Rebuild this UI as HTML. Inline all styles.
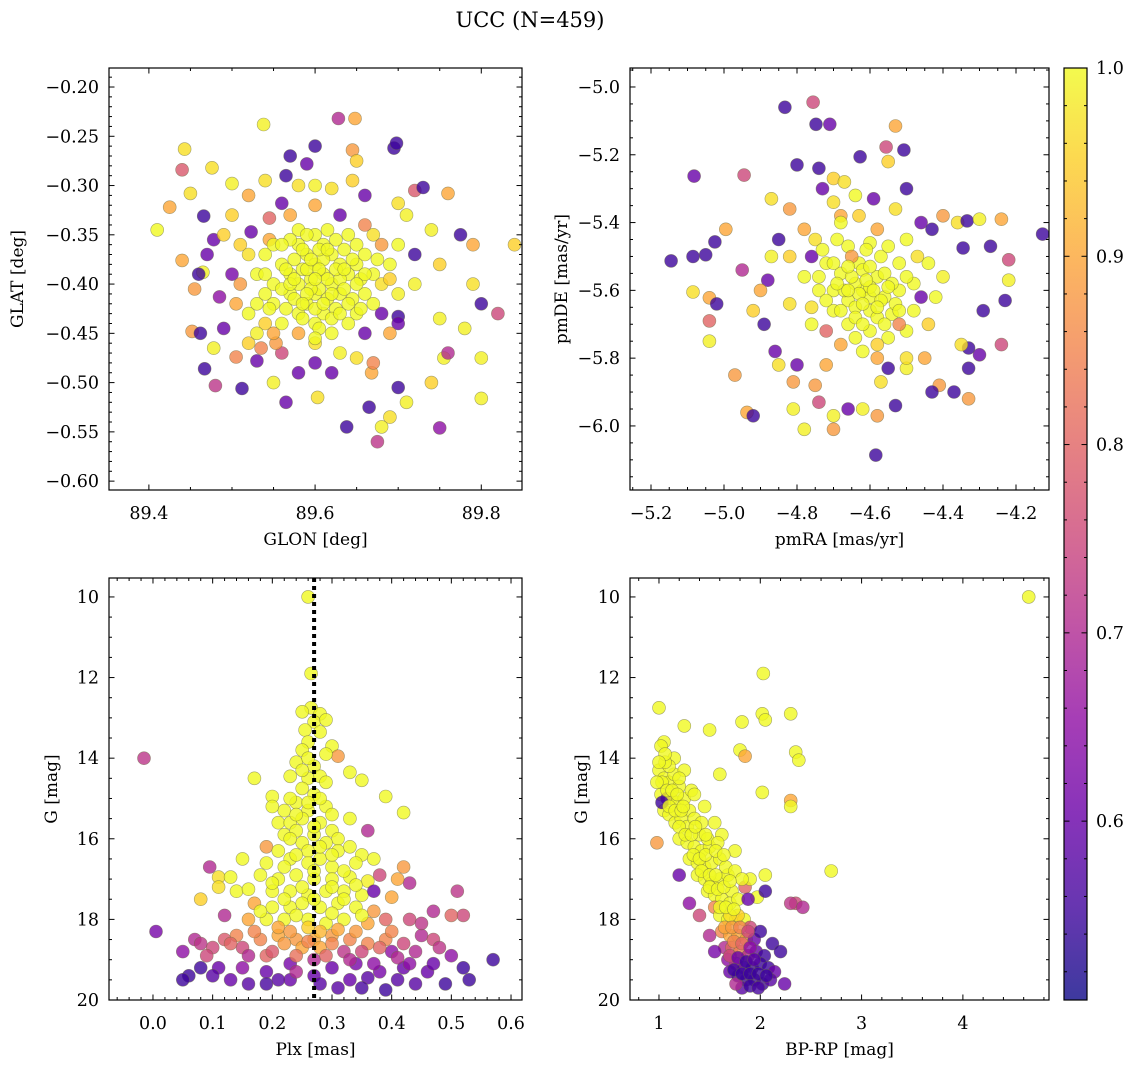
<!DOCTYPE html>
<html><head><meta charset="utf-8"><style>
html,body{margin:0;padding:0;background:#fff;}
svg{display:block;font-family:"DejaVu Serif","Liberation Serif",serif;}
</style></head><body>
<svg id="fig" width="1136" height="1067" viewBox="0 0 1136 1067" xmlns="http://www.w3.org/2000/svg">
<text x="530" y="27" font-size="21" text-anchor="middle">UCC (N=459)</text>
</svg>
<script>
// ---------- data (value arrays) ----------
const p1Points = [
[89.41,-0.345,1.0],[89.425,-0.322,0.9],[89.44,-0.284,0.78],[89.443,-0.263,0.97],[89.45,-0.308,0.97],[89.44,-0.376,0.9],[89.455,-0.405,0.88],[89.452,-0.448,0.88],[89.462,-0.45,0.55],[89.467,-0.486,0.55],[89.48,-0.503,0.72],[89.476,-0.282,0.97],[89.466,-0.331,0.55],[89.47,-0.37,0.6],[89.465,-0.388,0.99],[89.46,-0.39,0.55],[89.478,-0.355,0.6],[89.49,-0.35,0.95],[89.485,-0.413,0.65],[89.49,-0.445,0.6],[89.478,-0.465,0.99],[89.5,-0.298,0.99],[89.5,-0.33,0.95],[89.51,-0.36,0.95],[89.5,-0.39,0.62],[89.505,-0.42,0.9],[89.505,-0.474,0.85],[89.512,-0.506,0.55],[89.52,-0.46,0.95],[89.52,-0.31,0.9],[89.523,-0.347,0.6],[89.53,-0.478,0.6],[89.538,-0.238,0.99],[89.54,-0.295,0.97],[89.545,-0.333,0.8],[89.55,-0.50,0.99],[89.56,-0.318,0.6],[89.565,-0.29,0.55],[89.57,-0.27,0.55],[89.58,-0.30,0.97],[89.59,-0.278,0.6],[89.6,-0.26,0.55],[89.6,-0.30,0.99],[89.62,-0.303,0.97],[89.628,-0.232,0.7],[89.648,-0.232,0.9],[89.645,-0.264,0.88],[89.65,-0.275,0.95],[89.66,-0.31,0.6],[89.645,-0.295,0.95],[89.695,-0.262,0.55],[89.698,-0.257,0.55],[89.72,-0.305,0.78],[89.73,-0.302,0.55],[89.7,-0.318,0.97],[89.71,-0.33,0.99],[89.76,-0.308,0.9],[89.74,-0.345,0.99],[89.775,-0.35,0.55],[89.79,-0.36,0.9],[89.84,-0.36,0.95],[89.72,-0.37,0.55],[89.75,-0.38,0.95],[89.79,-0.40,0.97],[89.8,-0.42,0.55],[89.82,-0.43,0.75],[89.78,-0.445,0.99],[89.75,-0.435,0.99],[89.7,-0.433,0.55],[89.7,-0.44,0.6],[89.755,-0.475,0.99],[89.76,-0.47,0.7],[89.8,-0.475,0.99],[89.8,-0.516,0.99],[89.75,-0.546,0.65],[89.74,-0.50,0.95],[89.7,-0.505,0.55],[89.71,-0.52,0.99],[89.69,-0.535,0.97],[89.68,-0.545,0.99],[89.675,-0.56,0.72],[89.665,-0.525,0.55],[89.668,-0.49,0.9],[89.67,-0.48,0.85],[89.65,-0.475,0.97],[89.638,-0.545,0.55],[89.62,-0.49,0.6],[89.603,-0.515,0.97],[89.6,-0.48,0.6],[89.58,-0.49,0.6],[89.565,-0.52,0.6],[89.56,-0.47,0.75],[89.553,-0.46,0.88],[89.535,-0.465,0.85],[89.54,-0.44,0.95],[89.63,-0.47,0.99],[89.66,-0.45,0.6],[89.69,-0.45,0.9],
[89.58,-0.36,1],[89.59,-0.37,1],[89.6,-0.38,1],[89.61,-0.39,1],[89.62,-0.4,1],[89.6,-0.41,1],[89.59,-0.42,1],[89.58,-0.4,1],[89.57,-0.39,1],[89.56,-0.38,1],[89.62,-0.37,1],[89.63,-0.38,1],[89.64,-0.39,1],[89.63,-0.41,1],[89.61,-0.43,1],[89.6,-0.44,1],[89.58,-0.43,1],[89.57,-0.41,1],[89.55,-0.4,1],[89.55,-0.42,1],[89.56,-0.44,1],[89.65,-0.36,1],[89.66,-0.37,1],[89.67,-0.39,1],[89.66,-0.41,1],[89.65,-0.43,1],[89.64,-0.35,1],[89.6,-0.35,1],[89.58,-0.345,1],[89.54,-0.37,1],[89.53,-0.39,1],[89.53,-0.42,1],[89.52,-0.43,1],[89.62,-0.45,1],[89.6,-0.46,0.97],[89.68,-0.4,0.97],[89.69,-0.38,1],[89.7,-0.36,1],[89.67,-0.35,0.97],[89.61,-0.36,1],[89.595,-0.395,1],[89.605,-0.405,1],[89.615,-0.415,1],[89.585,-0.385,1],[89.575,-0.375,1],[89.625,-0.425,1],[89.635,-0.365,1],[89.645,-0.415,1],[89.655,-0.395,1],[89.565,-0.425,1],[89.545,-0.355,0.9],[89.51,-0.4,0.88],[89.66,-0.34,0.85],[89.63,-0.33,0.6],[89.57,-0.33,0.9],[89.6,-0.32,0.9],[89.68,-0.43,0.6],[89.52,-0.37,0.97],[89.7,-0.41,0.99],[89.72,-0.4,0.99],[89.58,-0.45,0.9],[89.55,-0.36,1],
[89.59,-0.385,1],[89.61,-0.375,1],[89.63,-0.395,1],[89.6,-0.425,1],[89.62,-0.435,1],[89.57,-0.355,1],[89.65,-0.38,1],[89.64,-0.44,1],[89.56,-0.405,1],[89.54,-0.41,1],
[89.585,-0.365,1],[89.605,-0.365,1],[89.625,-0.385,1],[89.615,-0.395,1],[89.595,-0.405,1],[89.575,-0.415,1],[89.605,-0.385,1],[89.635,-0.405,1],[89.645,-0.375,1],[89.655,-0.425,1],[89.6,-0.395,1],[89.59,-0.41,1],[89.62,-0.41,1],[89.61,-0.42,1],[89.57,-0.4,1],[89.565,-0.385,1],[89.625,-0.355,1],[89.585,-0.435,1],[89.605,-0.445,1],[89.63,-0.43,1],[89.545,-0.425,1],[89.54,-0.39,1],[89.675,-0.375,1],[89.66,-0.39,1],[89.59,-0.35,1],[89.615,-0.345,1],[89.55,-0.45,0.9],[89.68,-0.36,0.88],[89.53,-0.45,0.99],[89.67,-0.42,1],[89.575,-0.395,1],[89.595,-0.375,1],[89.635,-0.385,1],[89.615,-0.365,1],[89.585,-0.42,1],[89.64,-0.42,1],[89.65,-0.4,1],[89.56,-0.36,1],[89.69,-0.395,0.95],[89.6,-0.455,1]
];
const p2Points = [
[-5.145,-5.513,0.55],[-5.085,-5.50,0.55],[-5.025,-5.457,0.55],[-5.082,-5.263,0.6],[-5.05,-5.495,0.55],[-5.085,-5.605,0.97],[-5.04,-5.622,0.9],[-5.04,-5.69,0.8],[-5.04,-5.75,0.99],[-5.02,-5.64,0.55],[-4.995,-5.42,0.9],[-4.945,-5.26,0.75],[-4.95,-5.54,0.7],[-4.97,-5.85,0.88],[-4.937,-5.96,0.9],[-4.92,-5.97,0.55],[-4.88,-5.57,0.6],[-4.89,-5.7,0.55],[-4.92,-5.66,0.95],[-4.9,-5.6,0.9],[-4.87,-5.5,0.99],[-4.87,-5.33,0.97],[-4.85,-5.45,0.55],[-4.86,-5.78,0.6],[-4.85,-5.82,0.97],[-4.8,-5.23,0.55],[-4.82,-5.36,0.88],[-4.833,-5.06,0.55],[-4.756,-5.045,0.75],[-4.748,-5.11,0.55],[-4.71,-5.11,0.6],[-4.74,-5.24,0.55],[-4.73,-5.3,0.6],[-4.7,-5.27,0.95],[-4.67,-5.28,0.97],[-4.68,-5.38,0.9],[-4.627,-5.206,0.55],[-4.556,-5.177,0.75],[-4.53,-5.115,0.9],[-4.507,-5.186,0.55],[-4.5,-5.3,0.55],[-4.55,-5.22,0.95],[-4.59,-5.33,0.6],[-4.53,-5.36,0.97],[-4.46,-5.4,0.6],[-4.43,-5.42,0.55],[-4.4,-5.38,0.88],[-4.36,-5.4,0.97],[-4.334,-5.395,0.55],[-4.3,-5.39,0.99],[-4.24,-5.39,0.9],[-4.27,-5.47,0.55],[-4.345,-5.475,0.55],[-4.22,-5.51,0.75],[-4.22,-5.57,0.99],[-4.23,-5.63,0.55],[-4.127,-5.434,0.55],[-4.29,-5.66,0.55],[-4.24,-5.76,0.75],[-4.3,-5.79,0.6],[-4.33,-5.77,0.55],[-4.35,-5.76,0.97],[-4.33,-5.83,0.55],[-4.41,-5.88,0.88],[-4.43,-5.9,0.55],[-4.33,-5.92,0.88],[-4.37,-5.9,0.55],[-4.53,-5.94,0.55],[-4.58,-5.97,0.88],[-4.62,-5.95,0.99],[-4.584,-6.086,0.55],[-4.66,-5.95,0.6],[-4.7,-5.97,0.99],[-4.74,-5.93,0.75],[-4.75,-5.88,0.88],[-4.81,-5.87,0.88],[-4.81,-5.95,0.99],[-4.78,-6.01,0.99],[-4.7,-6.01,0.88],[-4.8,-5.82,0.6],[-4.55,-5.83,0.55],[-4.5,-5.83,0.99],[-4.45,-5.8,0.9],
[-4.62,-5.6,1],[-4.6,-5.62,1],[-4.64,-5.58,1],[-4.58,-5.56,1],[-4.66,-5.63,1],[-4.6,-5.66,1],[-4.56,-5.62,1],[-4.68,-5.55,1],[-4.63,-5.52,1],[-4.57,-5.5,1],[-4.7,-5.6,1],[-4.52,-5.6,1],[-4.54,-5.67,1],[-4.66,-5.7,1],[-4.6,-5.72,1],[-4.55,-5.74,1],[-4.7,-5.66,1],[-4.74,-5.6,1],[-4.72,-5.52,1],[-4.66,-5.47,1],[-4.6,-5.46,1],[-4.52,-5.52,1],[-4.48,-5.58,1],[-4.48,-5.66,1],[-4.5,-5.72,1],[-4.62,-5.78,1],[-4.68,-5.76,0.9],[-4.76,-5.7,1],[-4.78,-5.56,1],[-4.75,-5.45,0.97],[-4.68,-5.4,1],[-4.63,-5.38,0.95],[-4.58,-5.42,0.9],[-4.5,-5.45,1],[-4.44,-5.52,1],[-4.42,-5.62,1],[-4.44,-5.7,0.95],[-4.5,-5.8,0.97],[-4.58,-5.8,0.9],[-4.72,-5.82,0.9],[-4.82,-5.64,0.97],[-4.82,-5.5,0.95],[-4.78,-5.42,0.9],[-4.7,-5.34,0.97],[-4.64,-5.32,1],[-4.56,-5.55,1],[-4.64,-5.65,1],[-4.58,-5.68,1],[-4.62,-5.54,1],[-4.67,-5.6,1],[-4.54,-5.58,1],[-4.6,-5.59,1],[-4.65,-5.5,0.88],[-4.52,-5.7,0.85],[-4.72,-5.72,0.8],[-4.46,-5.62,0.6],[-4.76,-5.5,0.6],[-4.57,-5.87,0.97],[-4.4,-5.56,0.99],
[-4.61,-5.57,1],[-4.63,-5.61,1],[-4.59,-5.6,1],[-4.65,-5.56,1],[-4.57,-5.63,1],[-4.62,-5.64,1],[-4.6,-5.53,1],[-4.66,-5.53,1],[-4.69,-5.58,1],[-4.55,-5.59,1],[-4.58,-5.65,1],[-4.64,-5.68,1],[-4.68,-5.66,1],[-4.53,-5.64,1],[-4.56,-5.7,1],[-4.62,-5.7,1],[-4.7,-5.52,1],[-4.74,-5.56,1],[-4.5,-5.56,1],[-4.52,-5.66,1],[-4.66,-5.6,1],[-4.61,-5.48,1],[-4.55,-5.47,1],[-4.72,-5.63,1],[-4.76,-5.65,0.97],[-4.64,-5.74,1],[-4.58,-5.76,0.95],[-4.47,-5.5,0.97],[-4.69,-5.45,1],[-4.73,-5.48,1]
];
const p3Points = [
[-0.015,14.0,0.72],[0.005,18.3,0.62],[0.26,10.0,1],[0.265,11.9,1],[0.265,12.75,1],[0.25,12.85,1],[0.28,12.9,1],[0.27,13.1,1],[0.29,13.05,1],[0.255,13.3,1],[0.28,13.35,1],[0.26,13.6,1],[0.25,13.8,1],[0.3,13.7,1],[0.31,13.95,0.88],[0.29,13.9,1],[0.24,14.1,1],[0.27,14.2,1],[0.23,14.45,1],[0.26,14.5,1],[0.28,14.45,1],[0.33,14.35,1],[0.35,14.55,1],[0.17,14.5,1],[0.39,14.95,1],[0.2,14.95,1],[0.25,14.75,1],[0.27,14.9,1],[0.24,15.1,1],[0.22,15.3,1],[0.2,15.2,1],[0.26,15.3,1],[0.29,15.2,1],[0.3,15.4,1],[0.42,15.35,1],[0.36,15.8,0.7],[0.21,15.6,1],[0.23,15.6,1],[0.25,15.5,1],[0.28,15.6,1],[0.33,15.5,1],[0.22,15.9,1],[0.24,15.8,1],[0.27,15.9,1],[0.3,15.8,1],[0.31,16.0,1],[0.25,16.1,1],[0.29,16.1,1],[0.19,16.2,0.88],[0.21,16.3,1],[0.26,16.3,1],[0.31,16.3,1],[0.33,16.2,1],[0.35,16.4,1],[0.37,16.5,1],[0.15,16.5,1],[0.19,16.6,1],[0.23,16.5,1],[0.26,16.6,1],[0.28,16.5,1],[0.3,16.7,1],[0.34,16.6,1],[0.095,16.7,0.7],[0.11,16.95,0.97],[0.11,17.2,0.97],[0.13,16.95,1],[0.14,17.3,1],[0.18,16.9,1],[0.21,17.0,1],[0.24,16.9,1],[0.27,17.0,1],[0.3,17.0,1],[0.33,16.95,1],[0.36,17.05,0.99],[0.38,16.9,0.75],[0.42,16.7,0.88],[0.43,17.1,0.7],[0.41,17.0,0.9],[0.16,17.25,1],[0.2,17.3,1],[0.23,17.3,1],[0.26,17.4,1],[0.29,17.3,1],[0.32,17.3,1],[0.35,17.4,1],[0.37,17.3,0.6],[0.4,17.45,0.9],[0.08,17.5,0.95],[0.17,17.6,0.9],[0.2,17.7,1],[0.23,17.7,1],[0.25,17.6,1],[0.28,17.7,1],[0.31,17.6,1],[0.34,17.7,1],[0.37,17.8,0.88],[0.16,18.0,0.9],[0.19,18.0,1],[0.22,18.0,1],[0.26,18.0,1],[0.29,18.1,1],[0.32,18.0,1],[0.36,18.1,0.9],[0.39,18.0,0.8],[0.43,18.0,0.75],[0.51,17.3,0.72],[0.52,17.9,0.75],[0.5,17.9,0.8],[0.47,17.8,0.7],
[0.21,18.4,0.9],[0.24,18.5,0.88],[0.27,18.5,0.9],[0.3,18.4,0.88],[0.33,18.5,0.85],[0.28,18.7,0.9],[0.25,18.7,0.9],[0.22,18.6,0.88],[0.18,18.5,0.85],[0.14,18.4,0.85],[0.12,18.5,0.78],[0.1,18.7,0.75],[0.07,18.5,0.7],[0.05,18.8,0.65],[0.08,18.6,0.72],[0.15,18.7,0.75],[0.19,18.9,0.8],[0.36,18.6,0.85],[0.39,18.5,0.85],[0.42,18.6,0.75],[0.45,18.4,0.7],[0.47,18.5,0.75],[0.35,18.8,0.75],[0.32,18.8,0.72],[0.4,18.8,0.65],[0.44,18.8,0.7],[0.48,18.7,0.72],[0.5,18.9,0.65],[0.52,19.2,0.55],[0.57,19.0,0.55],[0.53,19.5,0.55],[0.46,19.3,0.6],[0.42,19.2,0.6],[0.38,19.3,0.62],[0.34,19.1,0.62],[0.3,19.2,0.6],[0.27,19.0,0.7],[0.23,19.1,0.62],[0.19,19.3,0.6],[0.15,19.2,0.65],[0.11,19.2,0.6],[0.08,19.2,0.55],[0.06,19.4,0.55],[0.05,19.5,0.55],[0.1,19.4,0.58],[0.13,19.5,0.6],[0.16,19.6,0.58],[0.19,19.6,0.56],[0.23,19.5,0.6],[0.27,19.4,0.6],[0.33,19.5,0.6],[0.36,19.45,0.58],[0.39,19.75,0.55],[0.41,19.5,0.58],[0.44,19.6,0.58],[0.31,19.7,0.58],[0.24,19.3,0.7],[0.2,18.8,0.78],[0.29,18.9,0.8],[0.37,19.1,0.65],[0.41,18.95,0.7],
[0.26,14.0,1],[0.25,14.3,1],[0.29,14.6,1],[0.23,15.0,1],[0.28,15.0,1],[0.26,15.1,1],[0.24,15.4,1],[0.27,15.7,1],[0.23,16.0,1],[0.28,16.2,1],[0.24,16.4,1],[0.3,16.4,1],[0.22,16.7,1],[0.27,16.8,1],[0.32,16.8,1],[0.2,17.1,1],[0.25,17.2,1],[0.3,17.2,1],[0.34,17.15,1],[0.22,17.5,1],[0.27,17.5,1],[0.32,17.5,1],[0.18,17.8,1],[0.24,17.9,1],[0.3,17.85,1],[0.35,17.9,1],[0.26,18.2,0.95],[0.21,18.2,0.9],[0.31,18.25,0.9],[0.4,18.3,0.85],[0.17,18.3,0.85],[0.23,18.3,0.88],[0.28,18.3,0.92],[0.34,18.3,0.88],[0.26,18.55,0.85],[0.3,18.6,0.85],[0.38,18.7,0.8],[0.13,18.6,0.8],[0.16,18.9,0.7],[0.24,18.9,0.82],[0.33,19.0,0.7],[0.43,19.1,0.65],[0.47,19.1,0.6],[0.21,19.5,0.58],[0.28,19.6,0.58],[0.35,19.7,0.56],[0.12,17.9,0.7],[0.45,18.1,0.72],[0.09,18.9,0.75],[0.49,19.6,0.55]
];
const p4Points = [
[4.65,10.0,1],[2.03,11.9,1],[2.02,12.9,1],[2.05,13.05,1],[2.3,12.9,1],[2.35,13.85,1],[2.38,14.05,1],[2.3,15.05,0.9],[2.3,15.2,1],[1.82,13.1,1],[1.8,13.8,1],[1.85,13.95,0.9],[1.6,14.4,1],[2.02,14.85,1],[1.0,12.75,1],[1.25,13.2,1],[0.98,16.1,0.88],[2.7,16.8,1],[2.35,17.6,0.75],[2.42,17.7,0.7],[1.5,13.3,1],[1.05,13.6,1],[1.02,13.7,1],[1.97,17.45,1],[2.3,17.6,0.72],
[1.0,14.3,1],[1.05,14.5,1],[1.1,14.6,1],[1.15,14.4,1],[1.2,14.7,1],[1.02,14.9,1],[1.08,15.0,0.6],[1.12,15.0,1],[1.18,15.1,1],[1.25,15.0,1],[1.3,15.3,1],[1.05,15.3,1],[1.1,15.4,1],[1.16,15.6,1],[1.22,15.5,1],[1.28,15.7,1],[1.35,15.5,1],[1.4,15.9,1],[1.2,16.0,1],[1.28,16.1,1],[1.35,16.2,1],[1.42,16.3,1],[1.5,16.2,1],[1.3,16.5,1],[1.38,16.6,1],[1.45,16.7,1],[1.52,16.6,1],[1.6,16.5,1],[1.38,16.9,1],[1.45,17.0,1],[1.52,17.1,1],[1.6,17.0,1],[1.68,16.9,1],[1.72,17.3,1],[1.48,17.3,1],[1.55,17.4,1],[1.62,17.5,1],[1.7,17.6,1],[1.78,17.5,1],[1.85,17.2,0.8],[1.88,17.5,0.6],[1.55,17.7,0.85],[1.6,17.9,1],[1.68,18.0,1],[1.76,18.0,1],[1.84,18.0,1],[1.9,18.2,0.75],[1.62,18.3,0.85],[1.7,18.4,0.9],[1.78,18.4,0.9],[1.86,18.5,0.9],[1.94,18.5,0.6],[2.0,18.3,0.55],[1.65,18.7,0.7],[1.72,18.7,0.8],[1.8,18.8,0.85],[1.88,18.9,0.7],[1.96,18.8,0.6],[2.04,18.9,0.55],[2.12,18.6,0.55],[2.2,18.8,0.55],[1.68,19.0,0.65],[1.76,19.1,0.72],[1.84,19.2,0.6],[1.92,19.2,0.55],[2.0,19.1,0.55],[2.08,19.2,0.55],[2.14,19.3,0.6],[1.7,19.3,0.6],[1.78,19.4,0.55],[1.86,19.5,0.55],[1.94,19.5,0.55],[2.02,19.6,0.55],[2.1,19.5,0.58],[1.82,19.7,0.58],[1.76,19.6,0.7],[2.24,19.6,0.6],[1.2,16.9,0.6],[1.3,17.6,0.65],[1.4,17.9,0.75],[1.5,18.4,0.7],[1.55,18.8,0.62],[2.05,17.3,0.55],[1.9,17.0,1],[2.05,16.9,1],[1.75,16.3,1],[1.62,15.9,1],[1.55,15.6,1],[1.45,15.2,1],[1.32,14.8,1],[1.25,14.3,1],[1.15,14.0,1],[1.1,14.2,1],[1.06,14.1,1],[1.03,15.1,0.55],[1.35,14.9,1],[1.42,15.6,1],[1.48,16.0,1],[1.58,16.1,1],[1.66,16.7,1],[1.75,16.8,1],[1.82,17.0,1],[1.78,17.9,0.95],[1.7,17.9,0.97],
[1.03,14.6,1],[1.08,14.8,1],[1.13,14.8,1],[1.18,14.9,1],[1.1,15.2,1],[1.16,15.3,1],[1.22,15.3,1],[1.2,15.7,1],[1.26,15.9,1],[1.32,15.9,1],[1.34,16.4,1],[1.4,16.5,1],[1.46,16.4,1],[1.42,16.8,1],[1.5,16.9,1],[1.56,16.9,1],[1.5,17.2,1],[1.58,17.25,1],[1.64,17.2,1],[1.6,17.7,1],[1.66,17.7,1],[1.74,17.75,1],[1.65,18.2,0.9],[1.72,18.2,0.88],[1.8,18.2,0.85],[1.88,18.3,0.75],[1.74,18.55,0.85],[1.82,18.6,0.8],[1.9,18.7,0.65],[1.7,18.9,0.75],[1.78,18.95,0.6],[1.86,19.05,0.55],[1.94,19.0,0.58],[1.74,19.25,0.55],[1.82,19.35,0.55],[1.9,19.35,0.55],[1.98,19.35,0.55],[1.9,19.65,0.55],[1.98,19.7,0.56],[2.06,19.4,0.55],[1.06,13.9,1],[1.0,14.1,1],[0.98,14.6,1],[1.2,14.5,1],[1.24,15.2,1],[1.36,15.7,1],[1.46,15.9,1],[1.56,16.3,1],[1.64,16.4,1],[1.7,17.05,1]
];
const cbTicks = [0.6, 0.7, 0.8, 0.9, 1.0];
const vmin = 0.505, vmax = 1.0;

// ---------- helpers ----------
const svg = document.getElementById('fig');
const NS = 'http://www.w3.org/2000/svg';
function mk(tag, attrs, parent){const e=document.createElementNS(NS,tag);for(const k in attrs)e.setAttribute(k,attrs[k]);(parent||svg).appendChild(e);return e;}
const stops=['#0d0887','#41049d','#6a00a8','#8f0da4','#b12a90','#cc4778','#e16462','#f2844b','#fca636','#fcce25','#f0f921'];
function hex(h){return [1,3,5].map(i=>parseInt(h.substr(i,2),16));}
function plasma(v){let t=(v-vmin)/(vmax-vmin);t=Math.max(0,Math.min(1,t));const f=t*10,i=Math.min(9,Math.floor(f)),r=f-i;const a=hex(stops[i]),b=hex(stops[i+1]);return 'rgb('+a.map((c,k)=>Math.round(c+(b[k]-c)*r)).join(',')+')';}
function fmt(v,d){const s=Math.abs(v).toFixed(d);return (v<-1e-9?'\u2212':'')+s;}
const TF=17.5, LF=17;

function panel(cfg){
  const g=mk('g',{});
  
  
  const X=v=>cfg.x0+(v-cfg.xmin)/(cfg.xmax-cfg.xmin)*(cfg.x1-cfg.x0);
  const Y=cfg.yinv? v=>cfg.y0+(v-cfg.ymin)/(cfg.ymax-cfg.ymin)*(cfg.y1-cfg.y0)
                  : v=>cfg.y1-(v-cfg.ymin)/(cfg.ymax-cfg.ymin)*(cfg.y1-cfg.y0);
  const clipId='clip-'+cfg.name;
  const cp=mk('clipPath',{id:clipId},g);mk('rect',{x:cfg.x0,y:cfg.y0,width:cfg.x1-cfg.x0,height:cfg.y1-cfg.y0},cp);
  const pts=mk('g',{'clip-path':'url(#'+clipId+')'},g);
  
  
  cfg.data.forEach(d=>{
    const c=mk('circle',{cx:X(d[0]).toFixed(1),cy:Y(d[1]).toFixed(1),r:6.5,fill:plasma(d[2]),'fill-opacity':0.8,stroke:'#6b6b45','stroke-opacity':0.6,'stroke-width':0.6},pts);
    
    
  });
  if(cfg.vline!==undefined){
    const l=mk('line',{x1:X(cfg.vline),x2:X(cfg.vline),y1:cfg.y0,y2:cfg.y1,stroke:'#000','stroke-width':4,'stroke-dasharray':'4 4'},g);
    
    
  }
  mk('rect',{x:cfg.x0,y:cfg.y0,width:cfg.x1-cfg.x0,height:cfg.y1-cfg.y0,fill:'none',stroke:'#000','stroke-width':1.2},g);
  const eps=1e-9;
  for(let v=Math.ceil((cfg.xmin)/cfg.xminor-eps)*cfg.xminor; v<=cfg.xmax+eps; v+=cfg.xminor){
    const px=X(v);const isMaj=Math.abs(v/cfg.xmajor-Math.round(v/cfg.xmajor))<1e-6;const L=isMaj?5.5:3;
    mk('line',{x1:px,x2:px,y1:cfg.y1,y2:cfg.y1-L,stroke:'#000','stroke-width':1},g);
    mk('line',{x1:px,x2:px,y1:cfg.y0,y2:cfg.y0+L,stroke:'#000','stroke-width':1},g);
  }
  cfg.xticks.forEach(v=>{const t=mk('text',{x:X(v),y:cfg.y1+29,'font-size':TF,'text-anchor':'middle'},g);t.textContent=fmt(v,cfg.xdec);
    });
  for(let v=Math.ceil((cfg.ymin)/cfg.yminor-eps)*cfg.yminor; v<=cfg.ymax+eps; v+=cfg.yminor){
    const py=Y(v);const isMaj=Math.abs(v/cfg.ymajor-Math.round(v/cfg.ymajor))<1e-6;const L=isMaj?5.5:3;
    mk('line',{x1:cfg.x0,x2:cfg.x0+L,y1:py,y2:py,stroke:'#000','stroke-width':1},g);
    mk('line',{x1:cfg.x1,x2:cfg.x1-L,y1:py,y2:py,stroke:'#000','stroke-width':1},g);
  }
  cfg.yticks.forEach(v=>{const t=mk('text',{x:cfg.x0-10,y:Y(v)+6,'font-size':TF,'text-anchor':'end'},g);t.textContent=fmt(v,cfg.ydec);
    });
  const xl=mk('text',{x:(cfg.x0+cfg.x1)/2,y:cfg.y1+55,'font-size':LF,'text-anchor':'middle'},g);xl.textContent=cfg.xlabel;
  
  const yx=cfg.ylx, yy=(cfg.y0+cfg.y1)/2;
  const yl=mk('text',{x:yx,y:yy,'font-size':LF,'text-anchor':'middle',transform:'rotate(-90 '+yx+' '+yy+')'},g);yl.textContent=cfg.ylabel;
  
}

panel({name:'glon-glat-panel',data:p1Points,x0:109,x1:522,y0:68,y1:490,xmin:89.352,xmax:89.849,ymin:-0.609,ymax:-0.1807,
  xmajor:0.2,xminor:0.05,ymajor:0.05,yminor:0.01,xticks:[89.4,89.6,89.8],xdec:1,
  yticks:[-0.2,-0.25,-0.3,-0.35,-0.4,-0.45,-0.5,-0.55,-0.6],ydec:2,xlabel:'GLON [deg]',ylabel:'GLAT [deg]',ylx:23});
panel({name:'pm-panel',data:p2Points,x0:630,x1:1049,y0:68,y1:490,xmin:-5.2575,xmax:-4.1096,ymin:-6.189,ymax:-4.944,
  xmajor:0.2,xminor:0.05,ymajor:0.2,yminor:0.05,xticks:[-5.2,-5.0,-4.8,-4.6,-4.4,-4.2],xdec:1,
  yticks:[-5.0,-5.2,-5.4,-5.6,-5.8,-6.0],ydec:1,xlabel:'pmRA [mas/yr]',ylabel:'pmDE [mas/yr]',ylx:567});
panel({name:'plx-g-panel',data:p3Points,x0:109,x1:522,y0:578,y1:1000,xmin:-0.0737,xmax:0.6184,ymin:9.53,ymax:20,yinv:true,
  xmajor:0.1,xminor:0.02,ymajor:2,yminor:0.5,xticks:[0,0.1,0.2,0.3,0.4,0.5,0.6],xdec:1,
  yticks:[10,12,14,16,18,20],ydec:0,xlabel:'Plx [mas]',ylabel:'G [mag]',ylx:57,vline:0.27});
panel({name:'cmd-panel',data:p4Points,x0:630,x1:1049,y0:578,y1:1000,xmin:0.714,xmax:4.85,ymin:9.53,ymax:20,yinv:true,
  xmajor:1,xminor:0.2,ymajor:2,yminor:0.5,xticks:[1,2,3,4],xdec:0,
  yticks:[10,12,14,16,18,20],ydec:0,xlabel:'BP-RP [mag]',ylabel:'G [mag]',ylx:587});

// ---------- colorbar ----------
(function(){
  const g=mk('g',{});
  
  
  const cx0=1064,cx1=1087,cy0=68,cy1=1000;
  const defs=mk('defs',{},g);
  const lg=mk('linearGradient',{id:'cbgrad',x1:0,y1:1,x2:0,y2:0},defs);
  for(let i=0;i<=20;i++){const v=vmin+(vmax-vmin)*i/20;mk('stop',{offset:(i/20),'stop-color':plasma(v)},lg);}
  mk('rect',{x:cx0,y:cy0,width:cx1-cx0,height:cy1-cy0,fill:'url(#cbgrad)','fill-opacity':0.8},g);
  mk('rect',{x:cx0,y:cy0,width:cx1-cx0,height:cy1-cy0,fill:'none',stroke:'#000','stroke-width':1.2},g);
  const Yc=v=>cy1-(v-vmin)/(vmax-vmin)*(cy1-cy0);
  for(let k=Math.ceil(vmin*50);k<=50;k++){const v=k/50;const maj=k%5===0;
    mk('line',{x1:cx1,x2:cx1-(maj?5.5:3),y1:Yc(v),y2:Yc(v),stroke:'#000','stroke-width':1},g);
    mk('line',{x1:cx0,x2:cx0+(maj?5.5:3),y1:Yc(v),y2:Yc(v),stroke:'#000','stroke-width':1},g);}
  cbTicks.forEach(v=>{const t=mk('text',{x:cx1+9,y:Yc(v)+6,'font-size':TF},g);t.textContent=v.toFixed(1);
    });
})();
</script>
</body></html>
